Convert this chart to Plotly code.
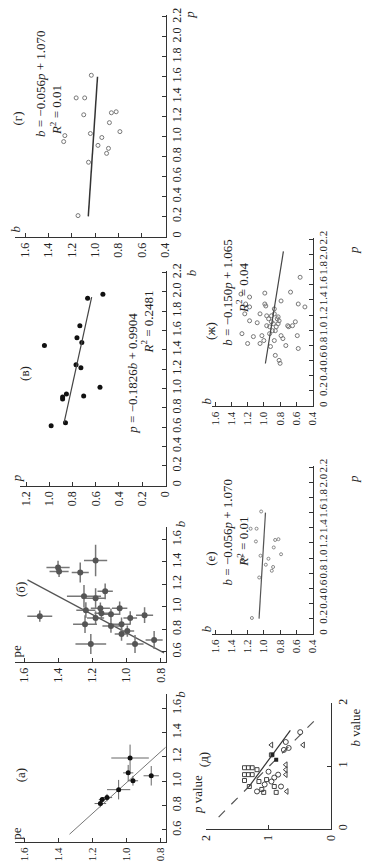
import plotly.graph_objects as go

W, H = 369, 861
FONT = "Liberation Serif"

# ---------------- data ----------------
# (а) pe vs b with error bars
a_pe = [1.153, 1.142, 1.114, 1.046, 0.990, 0.979, 0.962, 0.855]
a_b = [0.817, 0.850, 0.866, 0.931, 1.069, 1.191, 1.004, 1.045]
a_pe_err = [0.034, 0.020, 0.030, 0.068, 0.030, 0.110, 0.030, 0.045]
a_b_err = [0.030, 0.020, 0.030, 0.080, 0.065, 0.110, 0.040, 0.080]
a_line_pe = [1.334, 0.770]
a_line_b = [0.565, 1.280]

# (б) pe vs b with error bars
bb_pe = [1.181, 1.401, 1.395, 1.271, 1.508, 1.249, 1.181, 1.125, 1.238, 1.153, 1.147, 1.091,
         1.243, 1.040, 1.181, 1.209, 1.091, 1.029, 1.029, 0.995, 0.978, 0.950, 0.894, 0.838]
bb_b = [1.413, 1.350, 1.315, 1.306, 0.917, 1.094, 1.076, 1.138, 0.970, 0.988, 0.944, 0.935,
        0.846, 0.988, 0.900, 0.669, 0.829, 0.846, 0.758, 0.784, 0.900, 0.669, 0.926, 0.705]
bb_pe_err = [0.068, 0.068, 0.056, 0.050, 0.073, 0.100, 0.056, 0.045, 0.056, 0.056, 0.040, 0.050,
             0.070, 0.045, 0.050, 0.090, 0.050, 0.050, 0.040, 0.040, 0.040, 0.050, 0.050, 0.050]
bb_b_err = [0.140, 0.060, 0.050, 0.090, 0.050, 0.100, 0.090, 0.070, 0.070, 0.050, 0.050, 0.050,
            0.080, 0.060, 0.060, 0.090, 0.060, 0.060, 0.060, 0.050, 0.060, 0.080, 0.070, 0.080]
bb_line_pe = [1.580, 0.780]
bb_line_b = [1.240, 0.590]

# (в) b vs p
v_b = [0.614, 0.891, 0.911, 0.645, 0.942, 0.921, 1.013, 1.245, 1.215, 1.443, 1.525, 1.474, 1.648, 1.934, 1.975]
v_p = [0.985, 0.886, 0.886, 0.861, 0.853, 0.704, 0.563, 0.770, 0.728, 1.043, 0.762, 0.720, 0.737, 0.670, 0.538]
v_line_b = [0.645, 1.945]
v_line_p = [0.873, 0.635]

# (г) and (е) p vs b
g_p = [0.208, 0.743, 1.031, 1.219, 1.388, 1.388, 1.615, 0.912, 0.991, 0.832, 0.882, 1.140, 1.239, 1.249, 1.050, 0.950, 1.010]
g_b = [1.147, 1.057, 1.041, 1.098, 1.163, 1.090, 1.033, 0.976, 0.943, 0.902, 0.886, 0.878, 0.861, 0.820, 0.788, 1.270, 1.260]
g_line_p = [0.2, 1.6]
g_line_b = [1.059, 0.980]

# (ж) p vs b
zh_p = [1.438, 1.307, 1.124, 0.915, 1.098, 1.216, 0.928, 0.824, 0.863, 1.490, 1.346, 1.320, 1.190, 1.059,
        1.150, 1.046, 0.954, 0.784, 1.190, 1.111, 0.993, 1.085, 1.281, 0.863, 0.667, 1.046, 1.176, 1.085,
        1.124, 0.601, 0.928, 0.889, 1.386, 0.797, 1.059, 1.046, 1.503, 1.059, 1.111, 0.928, 1.346, 0.758,
        1.699, 1.307, 1.216, 1.150, 0.562, 0.993, 1.477, 1.216, 0.954, 0.824, 1.346]
zh_b = [1.176, 1.176, 1.176, 1.129, 1.082, 1.047, 1.024, 1.047, 1.000, 0.988, 0.988, 0.976, 0.965, 0.965,
        0.941, 0.929, 0.929, 0.918, 0.906, 0.906, 0.894, 0.882, 0.871, 0.871, 0.859, 0.847, 0.824, 0.824,
        0.812, 0.812, 0.788, 0.765, 0.788, 0.729, 0.706, 0.694, 0.671, 0.647, 0.612, 0.588, 0.576, 0.576,
        0.553, 0.494, 0.871, 0.835, 0.800, 0.859, 1.282, 1.235, 1.270, 1.200, 1.224]
zh_line_p = [0.56, 2.04]
zh_line_b = [0.981, 0.759]

# (д) p value vs b value
d_sq_b = [0.976, 0.976, 0.976, 0.866, 0.866, 0.866, 0.945, 0.772, 0.677, 0.756, 0.583, 0.787, 1.181, 0.583, 0.677, 0.630]
d_sq_p = [1.385, 1.323, 1.262, 1.385, 1.323, 1.262, 1.185, 1.385, 1.308, 1.154, 1.077, 1.031, 0.954, 0.877, 0.908, 1.108]
d_ci_b = [0.598, 0.709, 0.756, 0.866, 0.677, 1.260, 1.386, 1.291, 1.543, 0.913, 0.819]
d_ci_p = [1.185, 1.062, 0.954, 0.846, 0.800, 0.754, 0.723, 0.677, 0.492, 1.000, 0.908]
d_tr_b = [1.339, 1.024, 0.945, 0.866, 0.598, 1.339]
d_tr_p = [0.954, 0.723, 0.723, 0.723, 0.708, 0.446]
d_fi_b = [1.181, 1.102]
d_fi_p = [0.938, 0.877]
d_dash_b = [0.19, 1.76]
d_dash_p = [1.80, 0.23]
d_solid_b = [0.68, 1.57]
d_solid_p = [1.31, 0.65]

# tick labels
t_02_22 = [0, 0.2, 0.4, 0.6, 0.8, 1.0, 1.2, 1.4, 1.6, 1.8, 2.0, 2.2]
t_04_16 = [0.4, 0.6, 0.8, 1.0, 1.2, 1.4, 1.6]
t_0_12 = [0, 0.2, 0.4, 0.6, 0.8, 1.0, 1.2]
t_06_16 = [0.6, 0.8, 1.0, 1.2, 1.4, 1.6]
t_08_16 = [0.8, 1.0, 1.2, 1.4, 1.6]
t_0_2 = [0, 1, 2]


def lab(v):
    return "0" if v == 0 else f"{v:.1f}"


def xax(x0, x1, rng, ticks, anchor, size=12, txt=None):
    return dict(domain=[x0 / W, x1 / W], range=rng, anchor=anchor,
                tickvals=ticks, ticktext=txt or [lab(t) for t in ticks],
                showline=True, linecolor="#333", linewidth=1,
                ticks="inside", ticklen=4, tickcolor="#333",
                tickangle=-90, showgrid=False, zeroline=False,
                tickfont=dict(family=FONT, size=size, color="#222"))


def yax(y0, y1, rng, ticks, anchor, size=12, txt=None):
    return dict(domain=[1 - y1 / H, 1 - y0 / H], range=rng, anchor=anchor, side="right",
                tickvals=ticks, ticktext=txt or [lab(t) for t in ticks],
                showline=True, linecolor="#333", linewidth=1,
                ticks="inside", ticklen=4, tickcolor="#333",
                tickangle=-90, showgrid=False, zeroline=False,
                tickfont=dict(family=FONT, size=size, color="#222"))


fig = go.Figure()

# axes: 1=(г) 2=(в) 3=(б) 4=(а) 5=(ж) 6=(е) 7=(д)
layout_axes = dict(
    xaxis=xax(8, 165, [1.69, 0.395], t_04_16, "y"),
    yaxis=yax(8, 232, [-0.005, 2.22], t_02_22, "x"),
    xaxis2=xax(14, 165, [1.25, -0.005], t_0_12, "y2"),
    yaxis2=yax(266, 483, [-0.005, 2.22], t_02_22, "x2"),
    xaxis3=xax(8, 165, [1.655, 0.77], t_08_16, "y3"),
    yaxis3=yax(525, 661, [0.51, 1.71], t_06_16, "x3"),
    xaxis4=xax(8, 165, [1.655, 0.77], t_08_16, "y4", 11),
    yaxis4=yax(693, 843, [0.50, 1.72], t_06_16, "x4"),
    xaxis5=xax(213, 318, [1.64, 0.395], t_04_16, "y5", 11),
    yaxis5=yax(233, 403, [-0.005, 2.22], t_02_22, "x5", 11),
    xaxis6=xax(213, 318, [1.64, 0.395], t_04_16, "y6", 11),
    yaxis6=yax(463, 633, [-0.005, 2.22], t_02_22, "x6", 11),
    xaxis7=xax(207, 337, [2.0, -0.005], t_0_2, "y7", 12, ["0", "1", "2"]),
    yaxis7=yax(703, 830, [-0.005, 2.0], t_0_2, "x7", 12, ["0", "1", "2"]),
)

open_grey = dict(symbol="circle-open", size=4, color="#777", line=dict(width=1, color="#777"))

# (г)
fig.add_trace(go.Scatter(x=g_b, y=g_p, mode="markers", marker=open_grey, xaxis="x", yaxis="y"))
fig.add_trace(go.Scatter(x=g_line_b, y=g_line_p, mode="lines", line=dict(color="#333", width=1.5), xaxis="x", yaxis="y"))
# (в)
fig.add_trace(go.Scatter(x=v_p, y=v_b, mode="markers", marker=dict(size=5, color="#111"), xaxis="x2", yaxis="y2"))
fig.add_trace(go.Scatter(x=v_line_p, y=v_line_b, mode="lines", line=dict(color="#444", width=1.2), xaxis="x2", yaxis="y2"))
# (б)
fig.add_trace(go.Scatter(x=bb_line_pe, y=bb_line_b, mode="lines", line=dict(color="#555", width=1.2), xaxis="x3", yaxis="y3"))
fig.add_trace(go.Scatter(x=bb_pe, y=bb_b, mode="markers", marker=dict(size=6, color="#555"),
                         error_x=dict(type="data", array=bb_pe_err, color="#777", thickness=1.5, width=0),
                         error_y=dict(type="data", array=bb_b_err, color="#777", thickness=1.5, width=0),
                         xaxis="x3", yaxis="y3"))
# (а)
fig.add_trace(go.Scatter(x=a_line_pe, y=a_line_b, mode="lines", line=dict(color="#777", width=1), xaxis="x4", yaxis="y4"))
fig.add_trace(go.Scatter(x=a_pe, y=a_b, mode="markers", marker=dict(size=5, color="#111"),
                         error_x=dict(type="data", array=a_pe_err, color="#666", thickness=1, width=0),
                         error_y=dict(type="data", array=a_b_err, color="#666", thickness=1, width=0),
                         xaxis="x4", yaxis="y4"))
# (ж)
fig.add_trace(go.Scatter(x=zh_b, y=zh_p, mode="markers", marker=open_grey, xaxis="x5", yaxis="y5"))
fig.add_trace(go.Scatter(x=zh_line_b, y=zh_line_p, mode="lines", line=dict(color="#444", width=1.2), xaxis="x5", yaxis="y5"))
# (е)
fig.add_trace(go.Scatter(x=g_b, y=g_p, mode="markers", marker=dict(symbol="circle-open", size=3, color="#888", line=dict(width=1, color="#888")), xaxis="x6", yaxis="y6"))
fig.add_trace(go.Scatter(x=g_line_b, y=g_line_p, mode="lines", line=dict(color="#555", width=1.2), xaxis="x6", yaxis="y6"))
# (д)
fig.add_trace(go.Scatter(x=d_dash_p, y=d_dash_b, mode="lines", line=dict(color="#555", width=1.2, dash="dash"), xaxis="x7", yaxis="y7"))
fig.add_trace(go.Scatter(x=d_solid_p, y=d_solid_b, mode="lines", line=dict(color="#333", width=1.2), xaxis="x7", yaxis="y7"))
fig.add_trace(go.Scatter(x=d_sq_p, y=d_sq_b, mode="markers", marker=dict(symbol="square-open", size=4, color="#444", line=dict(width=1)), xaxis="x7", yaxis="y7"))
fig.add_trace(go.Scatter(x=d_ci_p, y=d_ci_b, mode="markers", marker=dict(symbol="circle-open", size=5, color="#444", line=dict(width=1)), xaxis="x7", yaxis="y7"))
fig.add_trace(go.Scatter(x=d_tr_p, y=d_tr_b, mode="markers", marker=dict(symbol="triangle-left-open", size=5, color="#444", line=dict(width=1)), xaxis="x7", yaxis="y7"))
fig.add_trace(go.Scatter(x=d_fi_p, y=d_fi_b, mode="markers", marker=dict(symbol="square", size=4, color="#222"), xaxis="x7", yaxis="y7"))


def ann(x, y, text, size=13):
    return dict(x=x / W, y=1 - y / H, xref="paper", yref="paper", text=text, showarrow=False,
                textangle=-90, xanchor="center", yanchor="middle",
                font=dict(family=FONT, size=size, color="#222"))


annotations = [
    ann(11, 113, "(г)"),
    ann(35, 77, "<i>b</i> = −0.056<i>p</i> + 1.070"),
    ann(51, 104, "<i>R</i><sup>2</sup> = 0.01"),
    ann(9, 224, "<i>b</i>"),
    ann(190, 8, "<i>p</i>"),
    ann(18, 370, "(в)"),
    ann(130, 370, "<i>p</i> = −0.1826<i>b</i> + 0.9904"),
    ann(146, 318, "<i>R</i><sup>2</sup> = 0.2481"),
    ann(192, 268, "<i>b</i>"),
    ann(10, 476, "<i>p</i>"),
    ann(14, 588, "(б)"),
    ann(180, 522, "<i>b</i>"),
    ann(10, 650, "pe"),
    ann(14, 775, "(а)"),
    ann(180, 694, "<i>b</i>"),
    ann(10, 834, "pe"),
    ann(212, 327, "(ж)"),
    ann(229, 288, "<i>b</i> = −0.150<i>p</i> + 1.065"),
    ann(245, 283, "<i>R</i><sup>2</sup> = 0.04"),
    ann(207, 398, "<i>b</i>"),
    ann(360, 245, "<i>p</i>"),
    ann(212, 557, "(е)"),
    ann(229, 530, "<i>b</i> = −0.056<i>p</i> + 1.070"),
    ann(245, 540, "<i>R</i><sup>2</sup> = 0.01"),
    ann(207, 628, "<i>b</i>"),
    ann(360, 476, "<i>p</i>"),
    ann(205, 760, "(д)"),
    ann(198, 795, "<i>p</i> value"),
    ann(362, 727, "<i>b</i> value"),
]

fig.update_layout(width=W, height=H, margin=dict(l=0, r=0, t=0, b=0),
                  paper_bgcolor="white", plot_bgcolor="white", showlegend=False,
                  annotations=annotations, **layout_axes)

fig.write_html("out.html", config={"responsive": False, "displayModeBar": False},
               post_script="document.body.style.margin='0px';document.body.style.overflow='hidden';")
